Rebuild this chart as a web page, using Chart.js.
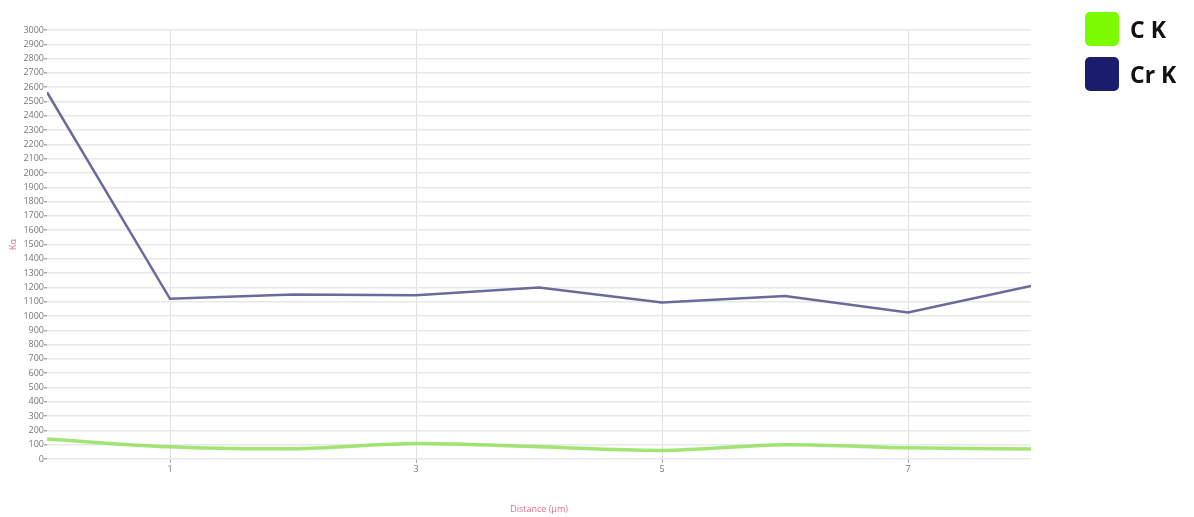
<!DOCTYPE html>
<html lang="en">
<head>
    <meta charset="UTF-8">
    <title>Line Scan</title>
    <script src="https://cdn.jsdelivr.net/npm/chart.js"></script>
    <style>
        body {
            margin: 0;
            background-color: #ffffff;
            font-family: "Open Sans", Arial, sans-serif;
        }
        .wrap {
            position: relative;
            width: 1194px;
            height: 517px;
        }
        .legend {
            position: absolute;
            left: 1085px;
            top: 12px;
        }
        .legend-item {
            display: flex;
            align-items: center;
            height: 34px;
            margin-bottom: 11px;
        }
        .swatch {
            width: 34px;
            height: 34px;
            border-radius: 5px;
            margin-right: 11px;
        }
        .legend-item span {
            font-size: 23px;
            font-weight: bold;
            color: #111;
        }
    </style>
</head>
<body>
    <div class="wrap">
        <canvas id="scan" width="1194" height="517"></canvas>
        <div class="legend">
            <div class="legend-item"><div class="swatch" style="background:#7cfc00"></div><span>C K</span></div>
            <div class="legend-item"><div class="swatch" style="background:#1c1c6e"></div><span>Cr K</span></div>
        </div>
    </div>

    <script>
        // distance along the scan (µm) and counts per element
        const distance = [0, 1, 2, 3, 4, 5, 6, 7, 8];
        const crK = [2565, 1120, 1150, 1145, 1200, 1095, 1140, 1025, 1210];
        const cK = [140, 85, 72, 108, 85, 60, 100, 78, 70];
        const xTicks = [1, 3, 5, 7];

        const toPoints = (vals) => vals.map((v, i) => ({ x: distance[i], y: v }));

        const ctx = document.getElementById('scan').getContext('2d');
        new Chart(ctx, {
            type: 'line',
            data: {
                datasets: [
                    {
                        label: 'C K',
                        data: toPoints(cK),
                        borderColor: 'rgba(140, 222, 80, 0.8)',
                        borderWidth: 3.5,
                        tension: 0.3,
                        pointRadius: 0
                    },
                    {
                        label: 'Cr K',
                        data: toPoints(crK),
                        borderColor: '#6a6a9c',
                        borderWidth: 2.5,
                        tension: 0,
                        pointRadius: 0
                    }
                ]
            },
            options: {
                responsive: false,
                animation: false,
                layout: { padding: { top: 30, right: 163, left: 0, bottom: 0 } },
                plugins: {
                    legend: { display: false },
                    tooltip: { enabled: false }
                },
                scales: {
                    x: {
                        type: 'linear',
                        min: 0,
                        max: 8,
                        afterBuildTicks: (scale) => {
                            scale.ticks = xTicks.map(v => ({ value: v }));
                        },
                        afterFit: (scale) => { scale.height = 58; },
                        grid: { color: '#e0e0e0', tickLength: 4, tickColor: '#aaa' },
                        border: { display: false },
                        ticks: {
                            font: { size: 9, family: 'Open Sans' },
                            color: '#777',
                            padding: 1
                        },
                        title: {
                            display: true,
                            text: 'Distance (µm)',
                            color: '#e0708f',
                            font: { size: 9, family: 'Open Sans' },
                            padding: { top: 0, bottom: 2 }
                        }
                    },
                    y: {
                        min: 0,
                        max: 3000,
                        afterFit: (scale) => { scale.width = 47; },
                        grid: { color: '#e8e8e8', lineWidth: 1.5, tickLength: 3, tickColor: '#aaa' },
                        border: { display: false },
                        ticks: {
                            stepSize: 100,
                            autoSkip: false,
                            callback: (v) => String(v),
                            font: { size: 9, family: 'Open Sans' },
                            color: '#777',
                            padding: 0
                        },
                        title: {
                            display: true,
                            text: 'Kα',
                            color: '#e0708f',
                            font: { size: 9, family: 'Open Sans' },
                            padding: { top: 8, bottom: 0 }
                        }
                    }
                }
            }
        });
    </script>
</body>
</html>
